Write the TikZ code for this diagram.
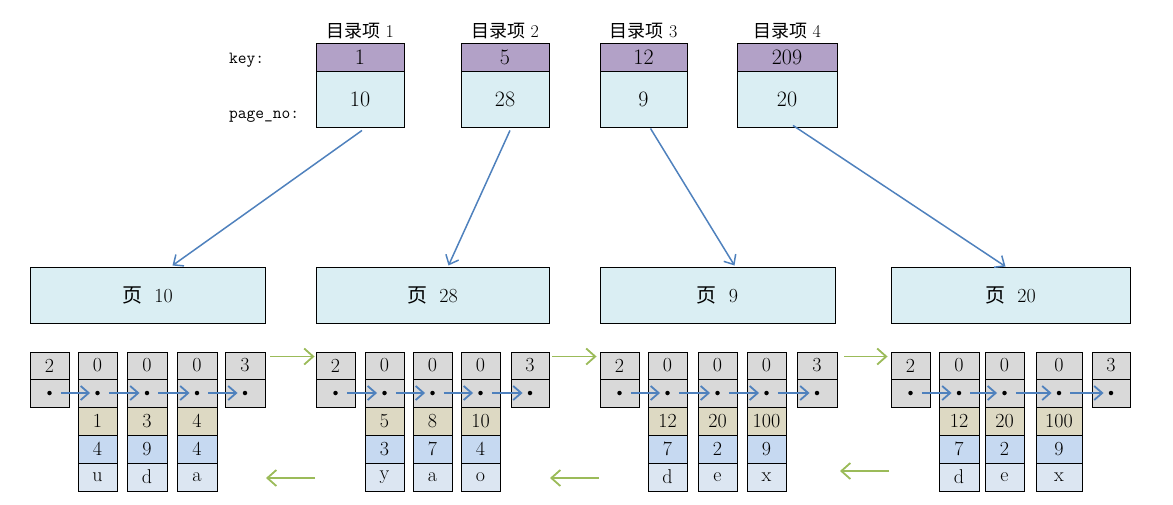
\documentclass[tikz,border=0pt]{standalone}
\usepackage{fontspec}
\newfontfamily\cjk{Noto Sans CJK SC}
\usetikzlibrary{arrows.meta,calc}
\definecolor{kpurple}{HTML}{B2A1C7}
\definecolor{plight}{HTML}{DAEEF3}
\definecolor{cgray}{HTML}{D9D9D9}
\definecolor{ctan}{HTML}{DDD9C3}
\definecolor{cblue}{HTML}{C6D9F1}
\definecolor{clight}{HTML}{DCE6F2}
\definecolor{ablue}{HTML}{4F81BD}
\definecolor{agreen}{HTML}{9BBB59}
\tikzset{
  cell/.style={draw=black, line width=0.9pt, inner sep=0pt, font=\fontsize{20}{20}\selectfont},
  dirbox/.style={draw=black, line width=0.9pt, inner sep=0pt, font=\fontsize{22}{22}\selectfont},
  pagebox/.style={draw=black, line width=1pt, fill=plight, inner sep=0pt, minimum height=56pt, font=\fontsize{20}{20}\selectfont},
  dirtitle/.style={inner sep=0pt, font=\fontsize{18}{18}\selectfont},
  rowlabel/.style={inner sep=0pt, anchor=west, font=\fontsize{17}{17}\ttfamily},
  recdot/.style={circle, fill=black, inner sep=0pt, minimum size=4.5pt},
  recarrow/.style={draw=ablue, line width=1.8pt, shorten <=9pt, shorten >=5pt, -{Straight Barb[length=8pt,width=14pt,line width=1.8pt]}},
  dirarrow/.style={draw=ablue, line width=1.5pt, -{Straight Barb[length=8pt,width=14pt,line width=1.5pt]}},
  linkarrow/.style={draw=agreen, line width=1.8pt, -{Straight Barb[length=9pt,width=16pt,line width=1.8pt]}},
}
\newcommand{\recgroup}[3]{%
  \foreach \i/\l/\r/\t in {#2} {
    \node[cell, fill=cgray, minimum width={(\r-\l)*1pt}, minimum height=27pt] (#1t\i) at ({(\l+\r)/2},365.5) {\t};
    \node[cell, fill=cgray, minimum width={(\r-\l)*1pt}, minimum height=28pt] (#1m\i) at ({(\l+\r)/2},393) {};
    \node[recdot] (#1d\i) at (#1m\i.center) {};
  }
  \foreach \i/\l/\r/\a/\b/\c in {#3} {
    \node[cell, fill=ctan, minimum width={(\r-\l)*1pt}, minimum height=28pt] (#1a\i) at ({(\l+\r)/2},421) {\a};
    \node[cell, fill=cblue, minimum width={(\r-\l)*1pt}, minimum height=28pt] (#1b\i) at ({(\l+\r)/2},449) {\b};
    \node[cell, fill=clight, minimum width={(\r-\l)*1pt}, minimum height=28pt] (#1c\i) at ({(\l+\r)/2},477) {\c};
  }
  \foreach \i [evaluate=\i as \j using int(\i+1)] in {1,...,4} {
    \draw[recarrow] (#1d\i) -- (#1d\j);
  }
}
\begin{document}
\begin{tikzpicture}[x=1pt,y=-1pt]
\useasboundingbox (0,0) rectangle (1173,504);
% directory entries
\foreach \n/\c/\w/\k/\p in {1/360/88/1/10, 2/505/88/5/28, 3/643.5/87/12/9, 4/787/100/209/20} {
  \node[dirtitle] (t\n) at (\c,31) {{\cjk 目录项}\ \n};
  \node[dirbox, fill=kpurple, minimum width={\w*1pt}, minimum height=28pt] (k\n) at (\c,57) {\k};
  \node[dirbox, fill=plight, minimum width={\w*1pt}, minimum height=56pt] (d\n) at (\c,99) {\p};
}
\node[rowlabel] (keylab) at (229,60) {key:};
\node[rowlabel] (pnlab) at (229,117) {page\_no:};
% pages
\node[pagebox, minimum width=235pt] (p1) at (147.5,295) {{\cjk 页}\ \ 10};
\node[pagebox, minimum width=233pt] (p2) at (432.5,295) {{\cjk 页}\ \ 28};
\node[pagebox, minimum width=235pt] (p3) at (717.5,295) {{\cjk 页}\ \ 9};
\node[pagebox, minimum width=239pt] (p4) at (1010.5,295) {{\cjk 页}\ \ 20};
% directory arrows
\draw[dirarrow] ([shift={(2pt,-3pt)}]d1.south) -- ([shift={(25pt,1pt)}]p1.north);
\draw[dirarrow] ([shift={(5pt,-3pt)}]d2.south) -- ([shift={(16pt,1pt)}]p2.north);
\draw[dirarrow] ([shift={(7pt,-1pt)}]d3.south) -- ([shift={(17pt,1pt)}]p3.north);
\draw[dirarrow] ([shift={(6pt,2pt)}]d4.south) -- ([shift={(-5pt,0pt)}]p4.north);
% record groups
\recgroup{ga}{1/30/69/2, 2/78/117/0, 3/127/167/0, 4/177/217/0, 5/225/265/3}{2/78/117/1/4/u, 3/127/167/3/9/d, 4/177/217/4/4/a}
\recgroup{gb}{1/316/355/2, 2/365/404/0, 3/413/452/0, 4/461/500/0, 5/511/549/3}{2/365/404/5/3/y, 3/413/452/8/7/a, 4/461/500/10/4/o}
\recgroup{gc}{1/600/639/2, 2/648/687/0, 3/698/737/0, 4/747/786/0, 5/797/837/3}{2/648/687/12/7/d, 3/698/737/20/2/e, 4/747/786/100/9/x}
\recgroup{gd}{1/891/930/2, 2/939/979/0, 3/985/1024/0, 4/1036/1082/0, 5/1092/1130/3}{2/939/979/12/7/d, 3/985/1024/20/2/e, 4/1036/1082/100/9/x}
% page links
\draw[linkarrow] ([shift={(5pt,9pt)}]gat5.east) -- ([shift={(-1pt,9pt)}]gbt1.west);
\draw[linkarrow] ([shift={(3pt,9pt)}]gbt5.east) -- ([shift={(-3pt,9pt)}]gct1.west);
\draw[linkarrow] ([shift={(7pt,9pt)}]gct5.east) -- ([shift={(-3pt,9pt)}]gdt1.west);
\coordinate (ba) at (315,478);
\coordinate (bb) at (266,478);
\coordinate (bc) at (599,478);
\coordinate (bd) at (550,478);
\coordinate (be) at (889,471);
\coordinate (bf) at (840,471);
\draw[linkarrow] (ba) -- (bb);
\draw[linkarrow] (bc) -- (bd);
\draw[linkarrow] (be) -- (bf);
\end{tikzpicture}
\end{document}
